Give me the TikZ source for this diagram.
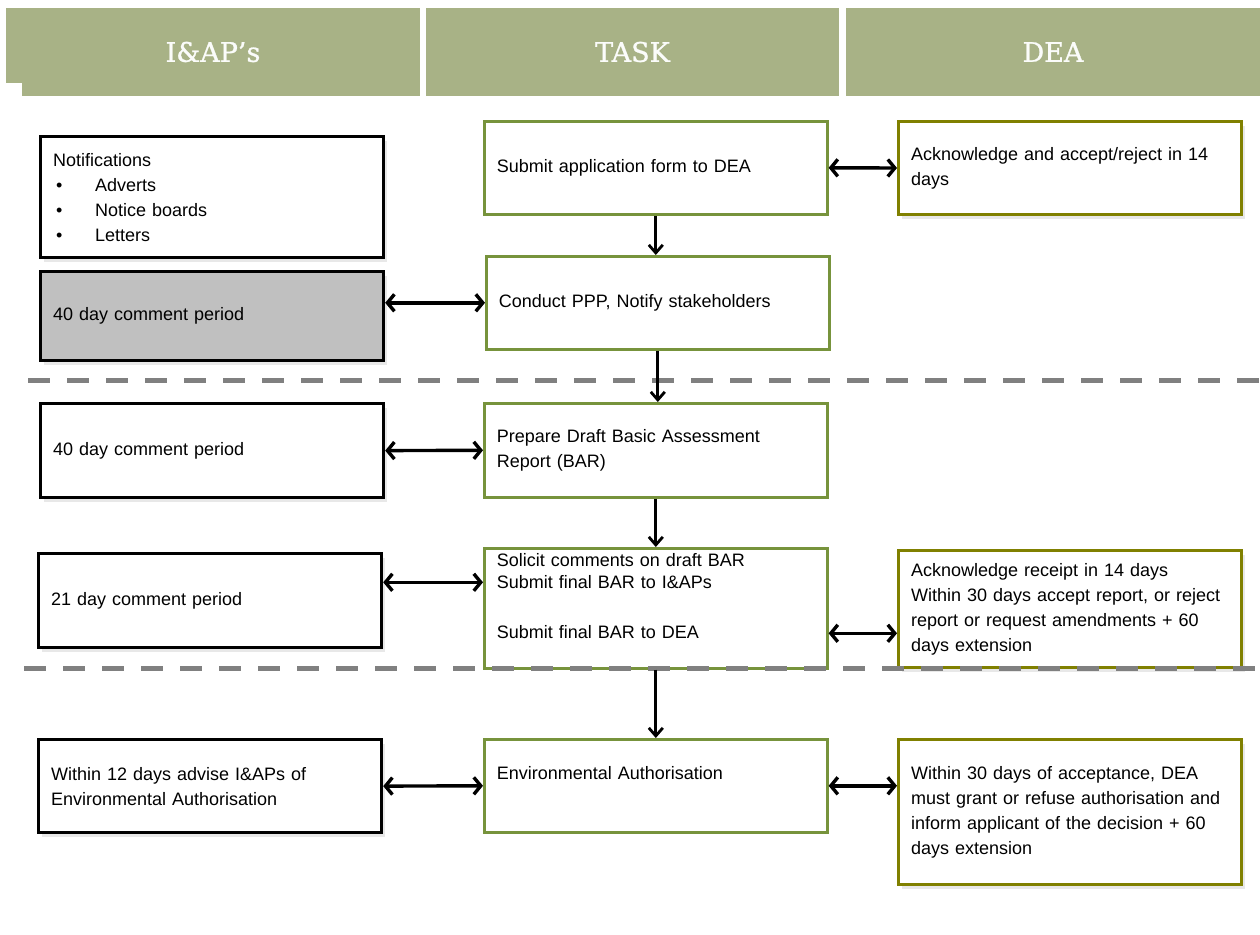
\documentclass[tikz,border=0pt]{standalone}
\usepackage{fontspec}
\setmainfont{Liberation Sans}
\newfontfamily\headfont{DejaVu Serif}[FakeBold=1]
\usepackage{xcolor}
\usepackage{tikz}
\usetikzlibrary{arrows.meta, shadows}
\definecolor{headgreen}{RGB}{168,178,134}
\definecolor{taskgreen}{RGB}{119,147,60}
\definecolor{deaolive}{RGB}{128,128,0}
\definecolor{dashgray}{RGB}{128,128,128}
\definecolor{periodgray}{RGB}{192,192,192}
\tikzstyle{arrow} = [line width=3.4pt,<->,>={Straight Barb[length=7pt,width=17pt]}]
\tikzstyle{down} = [line width=2.8pt,->,>={Straight Barb[length=8pt,width=14pt]}]
\tikzstyle{head} = [fill=headgreen,text=white!96!headgreen,font=\headfont\fontsize{27}{32}\selectfont,minimum width=414pt,minimum height=88pt,inner sep=0pt]
\tikzstyle{box} = [anchor=north west,text width=318pt,inner xsep=12.5pt,inner ysep=0pt,align=left,fill=white,font=\fontsize{18}{25}\selectfont]
\tikzstyle{iapbox} = [box,draw=black,line width=3.2pt,drop shadow={shadow xshift=3pt,shadow yshift=-4pt,opacity=0.18}]
\tikzstyle{taskbox} = [box,draw=taskgreen,line width=2.6pt]
\tikzstyle{deabox} = [box,draw=deaolive,line width=3pt,drop shadow={shadow xshift=3pt,shadow yshift=-4pt,opacity=0.18}]
\tikzstyle{dashline} = [dashgray,line width=5pt,dash pattern=on 22pt off 17pt]

\begin{document}
\begin{tikzpicture}[x=1pt,y=-1pt]
	% Page:
	\fill[white] (0,0) rectangle (1260,934);
	\useasboundingbox (0,0) rectangle (1260,934);

	% Column headers:
	\node[head] (iap) at (213,52) {I\&AP’s};
	\node[head,minimum width=413pt] (task) at (632.5,52) {TASK};
	\node[head] (dea) at (1053,52) {DEA};
	\fill[white] (6,83) rectangle (22,97);

	% I&AP's column:
	\node[iapbox,minimum height=121pt] (notif) at (39,135) {Notifications\\
		\makebox[42pt][l]{\hspace{3pt}\textbullet}Adverts\\
		\makebox[42pt][l]{\hspace{3pt}\textbullet}Notice boards\\
		\makebox[42pt][l]{\hspace{3pt}\textbullet}Letters};
	\node[iapbox,fill=periodgray,minimum height=89pt] (period40a) at (39,270) {40 day comment period};
	\node[iapbox,minimum height=94pt] (period40b) at (39,402) {40 day comment period};
	\node[iapbox,minimum height=94pt] (period21) at (37,552) {21 day comment period};
	\node[iapbox,minimum height=93pt] (advise) at (37,738) {Within 12 days advise I\&APs of\\ Environmental Authorisation};

	% TASK column:
	\node[taskbox,minimum height=93pt] (submit) at (483,120) {Submit application form to DEA};
	\node[taskbox,minimum height=93pt] (conduct) at (485,255) {Conduct PPP, Notify stakeholders};
	\node[taskbox,minimum height=94pt] (prepare) at (483,402) {Prepare Draft Basic Assessment\\ Report (BAR)};
	\node[taskbox,minimum height=120pt] (solicit) at (483,547) {Solicit comments on draft BAR\\[-3pt]
		Submit final BAR to I\&APs\\ \mbox{}\\ Submit final BAR to DEA\\ \mbox{}};
	\node[taskbox,minimum height=93pt] (envauth) at (483,738) {Environmental Authorisation\\ \mbox{}};

	% DEA column:
	\node[deabox,minimum height=93pt] (accept) at (897,120) {Acknowledge and accept/reject in 14\\ days};
	\node[deabox,minimum height=117pt] (receipt) at (897,549) {Acknowledge receipt in 14 days\\
		Within 30 days accept report, or reject\\ report or request amendments + 60\\ days extension};
	\node[deabox,minimum height=145pt] (decide) at (897,738) {Within 30 days of acceptance, DEA\\
		must grant or refuse authorisation and\\ inform applicant of the decision + 60\\ days extension};

	% Phase separators:
	\draw[dashline] (28,380) -- (1260,380);
	\draw[dashline] (24,668) -- (1260,668);

	% Flow:
	\draw[down] (submit.south) -- (submit.south |- conduct.north);
	\draw[down] (conduct.south) -- (conduct.south |- prepare.north);
	\draw[down] (prepare.south) -- (solicit.north);
	\draw[down] (solicit.south) -- (envauth.north);

	% Exchanges:
	\draw[arrow] (submit.east) -- (accept.west);
	\draw[arrow] (period40a.east |- conduct.west) -- (conduct.west);
	\draw[arrow] (period40b.east) -- (prepare.west);
	\coordinate (solicitin) at ([yshift=26pt]solicit.west);
	\coordinate (solicitout) at ([yshift=-25pt]solicit.east);
	\draw[arrow] (period21.east |- solicitin) -- (solicitin);
	\draw[arrow] (solicitout) -- (receipt.west |- solicitout);
	\draw[arrow] (advise.east) -- (envauth.west);
	\draw[arrow] (envauth.east) -- (decide.west |- envauth.east);
\end{tikzpicture}
\end{document}
